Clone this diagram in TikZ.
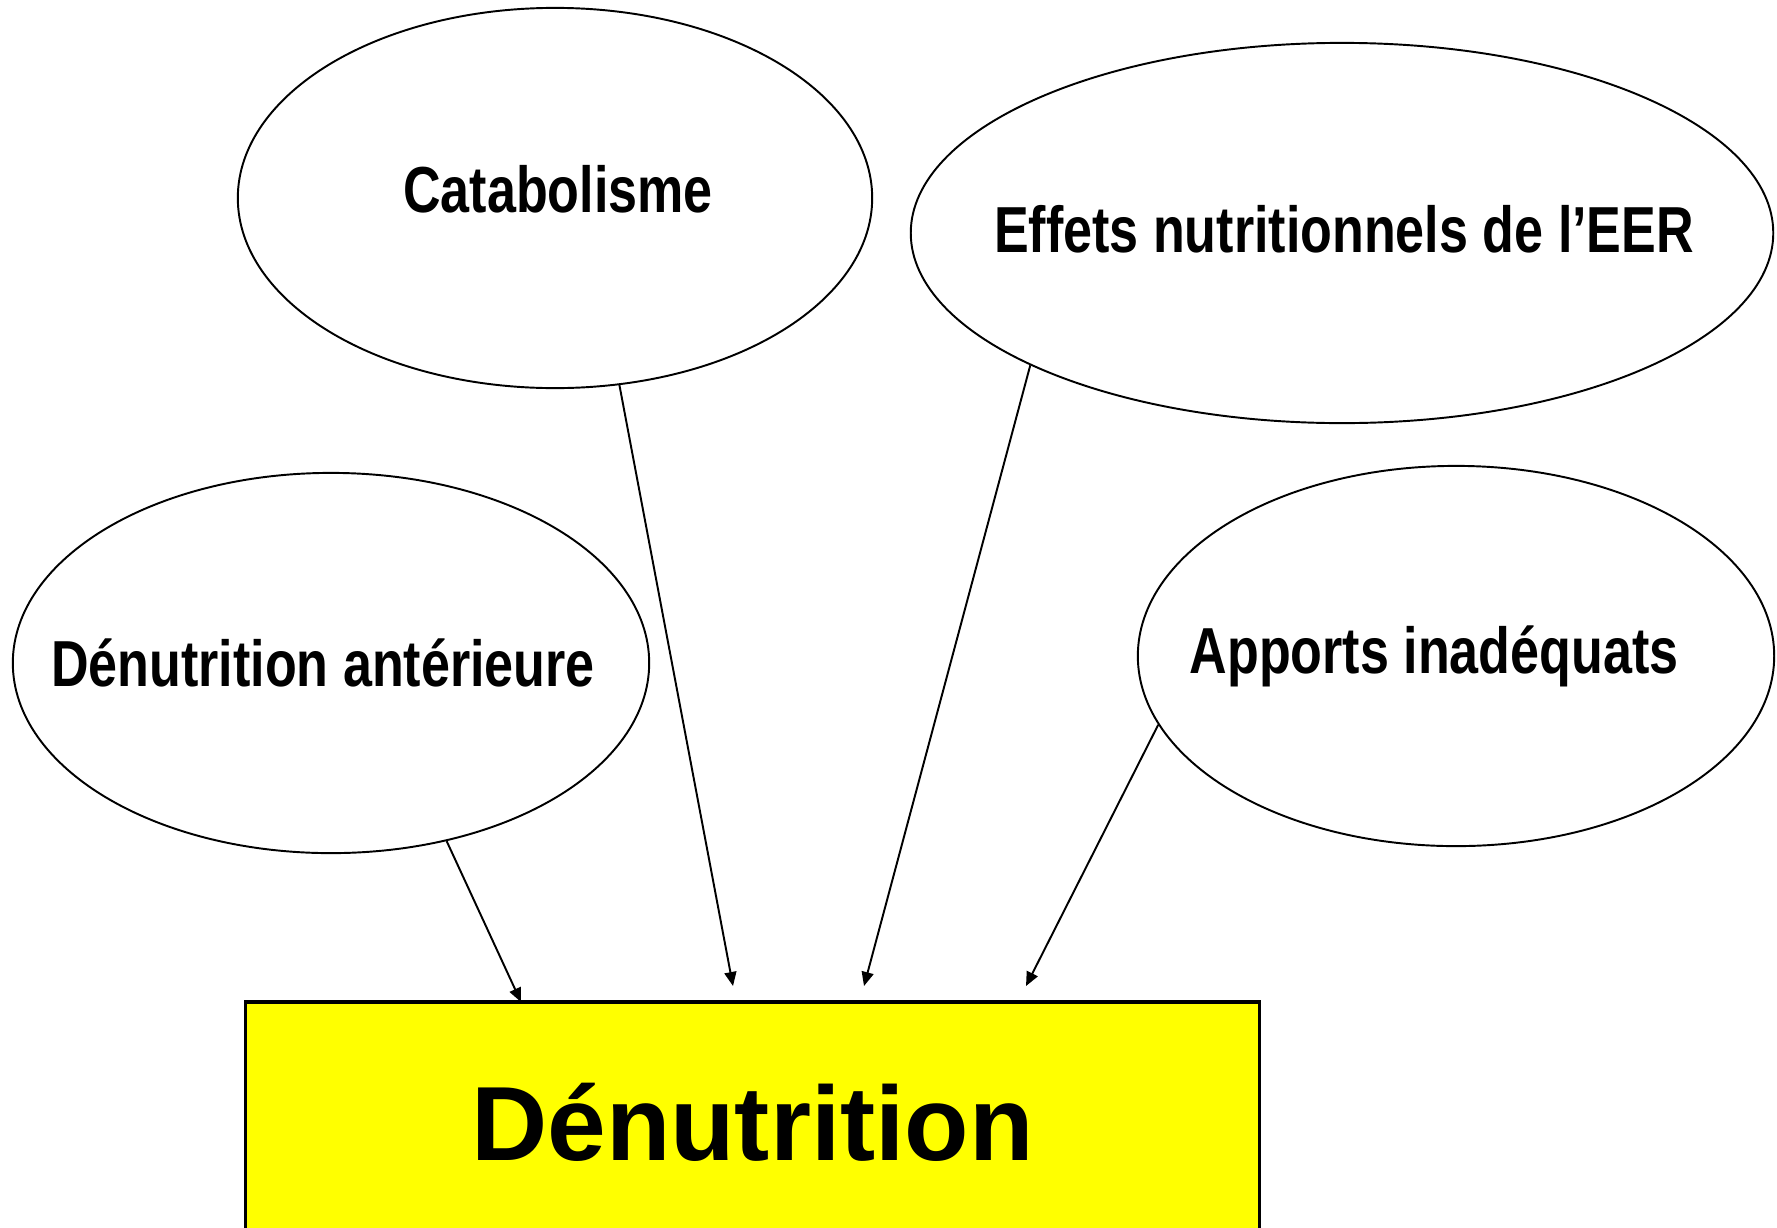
\documentclass[tikz,border=0pt]{standalone}
\usepackage{fontspec}
\setmainfont{Liberation Sans}
\newfontfamily\narrowfont[FakeStretch=0.8]{Liberation Sans}
\usepackage{xcolor}
\usetikzlibrary{shapes.geometric,arrows.meta}

\definecolor{boxyellow}{RGB}{255,255,0}

% label that does not widen the ellipse, with a small offset
\newcommand{\lbl}[3]{\makebox[0pt]{\hspace*{#1}\raisebox{#2}{#3}}}

\tikzset{
  cause/.style={ellipse, draw, line width=0.55pt, inner sep=0pt,
    font=\narrowfont\bfseries\fontsize{18.5pt}{22pt}\selectfont},
  effect/.style={draw, line width=0.9pt, fill=boxyellow, inner sep=0pt,
    font=\bfseries\fontsize{30pt}{36pt}\selectfont},
  link/.style={line width=0.55pt, -{Triangle[length=1.4mm,width=1.2mm]}}
}

\begin{document}
\begin{tikzpicture}[x=0.01cm,y=-0.01cm]
                \useasboundingbox (0,0) rectangle (1777,1227);
                \node [cause, minimum width=6.34cm, minimum height=3.8cm] (cat) at (555,198) {\lbl{0.06cm}{0.18cm}{Catabolisme}};
                \node [cause, minimum width=8.62cm, minimum height=3.8cm] (eer) at (1342,233) {\lbl{0.04cm}{0.08cm}{Effets nutritionnels de l’EER}};
                \node [cause, minimum width=6.36cm, minimum height=3.8cm] (ant) at (331,663) {\lbl{-0.16cm}{-0.25cm}{Dénutrition antérieure}};
                \node [cause, minimum width=6.36cm, minimum height=3.8cm] (app) at (1456,656) {\lbl{-0.44cm}{-0.09cm}{Apports inadéquats}};
                \node [effect, minimum width=10.13cm, minimum height=2.4cm] (den) at (752.5,1122) {Dénutrition};
                \coordinate (e1) at (521,1002);
                \coordinate (e2) at (733,986);
                \coordinate (e3) at (864,986);
                \coordinate (e4) at (1026,986);
                \draw [link] (ant.-57) -- (e1);
                \draw [link] (cat.-71) -- (e2);
                \draw [link] (eer.-157) -- (e3);
                \draw [link] (app.-167) -- (e4);
            \end{tikzpicture}
\end{document}
